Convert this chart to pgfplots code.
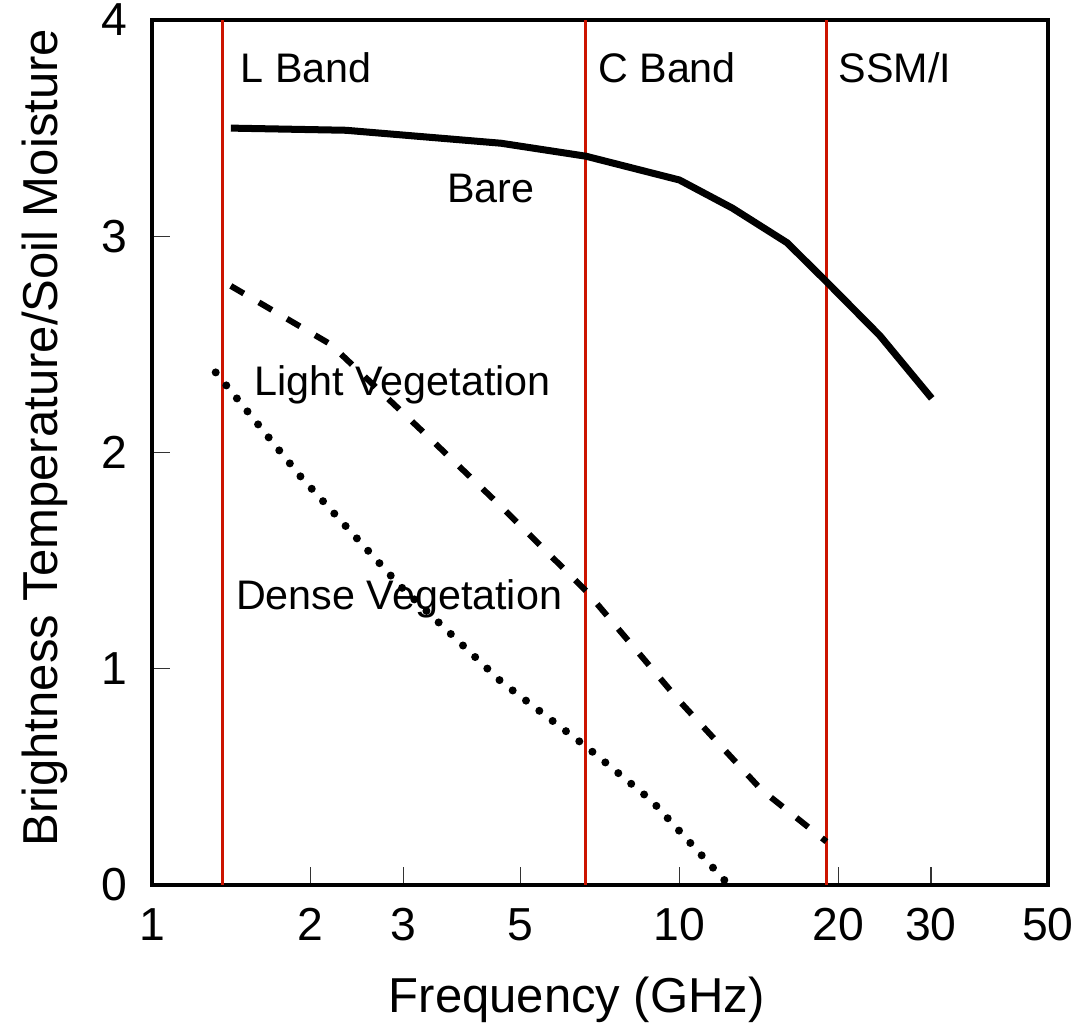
\documentclass[border=0pt]{standalone}
\usepackage{fontspec}
\setmainfont{Liberation Sans}
\usepackage{pgfplots}
\pgfplotsset{compat=1.18}
\definecolor{bandred}{RGB}{204,20,0}
\tikzset{annot/.style={anchor=base west, inner xsep=0pt, font=\fontsize{16.5}{19}\selectfont}}

\begin{document}
\begin{tikzpicture}
\begin{axis}[
scale only axis,
width=358pt,
height=345.6pt,
xmode=log,
xmin=1, xmax=50,
ymin=0, ymax=4,
xtick={1,2,3,5,10,20,30,50},
xticklabels={1,2,3,5,10,20,30,50},
ytick={0,1,2,3,4},
minor xtick={},
log ticks with fixed point,
xtick pos=bottom,
ytick pos=left,
tick align=inside,
major tick length=7pt,
tick style={line width=0.5pt, black!80},
axis line style={line width=1.4pt},
/pgf/number format/assume math mode=true,
tick label style={font=\fontsize{18.5}{21}\selectfont},
xticklabel style={yshift=-6pt},
yticklabel style={xshift=-6.5pt},
label style={font=\fontsize{19.6}{23}\selectfont},
xlabel={Frequency (GHz)},
ylabel={Brightness Temperature/Soil Moisture},
xlabel style={at={(axis description cs:0.474,-0.148)}, anchor=base},
ylabel style={at={(axis description cs:-0.106,0.517)}, anchor=base},
clip=false,
]

% band markers
\addplot[bandred, line width=1.2pt] coordinates {(1.36,0) (1.36,4)};
\addplot[bandred, line width=1.2pt] coordinates {(6.65,0) (6.65,4)};
\addplot[bandred, line width=1.2pt] coordinates {(19.0,0) (19.0,4)};

% bare soil
\addplot[black, line width=2.8pt] coordinates {
(1.41,3.50) (2.33,3.49) (4.59,3.43) (6.65,3.37) (10.0,3.26)
(12.6,3.13) (16.0,2.97) (19.0,2.79) (24.0,2.54) (30.1,2.25)
};

% light vegetation
\addplot[black, line width=2.4pt, dash pattern=on 6pt off 7pt] coordinates {
(1.41,2.77) (2.18,2.50) (3.38,2.06) (4.59,1.75) (6.65,1.36)
(10.0,0.85) (14.3,0.44) (19.0,0.20)
};

% dense vegetation
\addplot[black, line width=3.2pt, line cap=round, dash pattern=on 0pt off 6.7pt] coordinates {
(1.32,2.37) (1.91,1.89) (2.96,1.38) (4.59,0.94) (6.65,0.64)
(8.85,0.39) (12.4,0.0)
};

\coordinate (sw) at (rel axis cs:0,0);
\coordinate (ne) at (rel axis cs:1,1);

\node[annot] at (axis cs:1.47,3.71) {L Band};
\node[annot] at (axis cs:7.0,3.71) {C Band};
\node[annot] at (axis cs:20.0,3.71) {SSM/I};
\node[annot] at (axis cs:3.62,3.157) {Bare};
\node[annot] at (axis cs:1.56,2.264) {Light Vegetation};
\node[annot] at (axis cs:1.44,1.273) {Dense Vegetation};
\end{axis}
\pgfresetboundingbox
\path ([shift={(-60.8pt,-55.6pt)}]sw) rectangle ([shift={(10.4pt,8pt)}]ne);
\end{tikzpicture}
\end{document}
